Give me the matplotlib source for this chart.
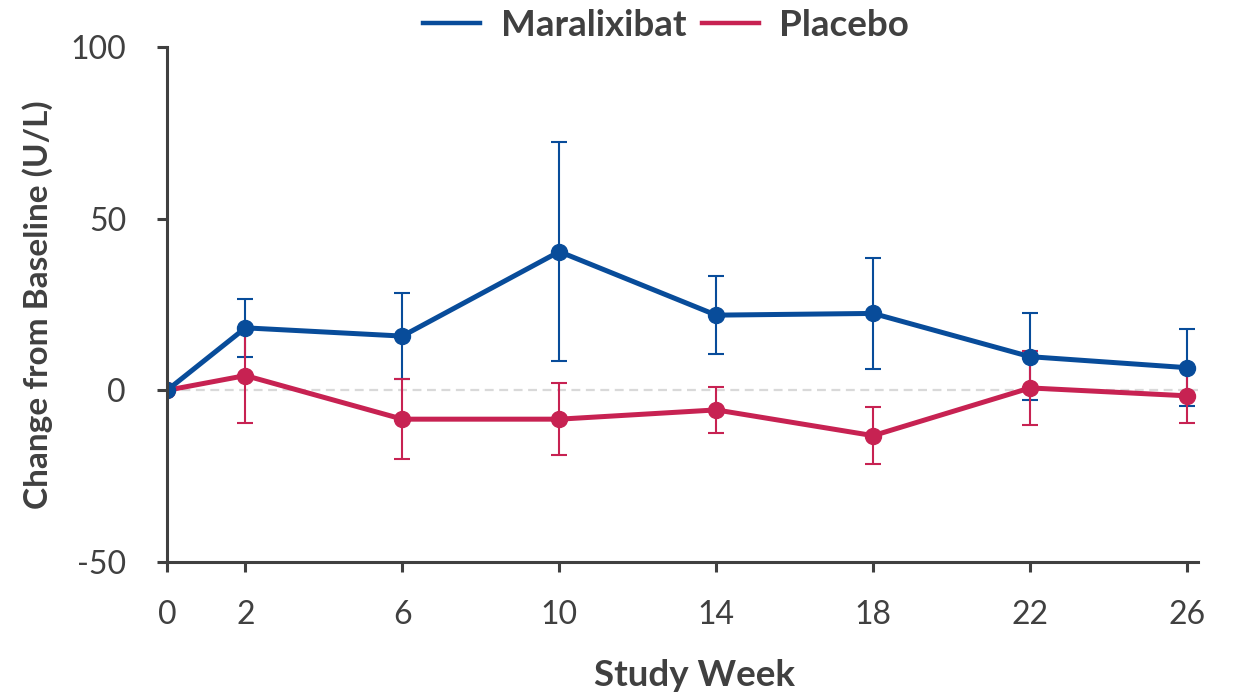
import matplotlib
matplotlib.use("Agg")
import matplotlib.pyplot as plt

# Study weeks and mean change from baseline (U/L) with error margins
weeks = [0, 2, 6, 10, 14, 18, 22, 26]

maralixibat = [0.0, 18.2, 15.8, 40.4, 21.9, 22.4, 9.8, 6.6]
maralixibat_err = [0.0, 8.4, 12.6, 31.8, 11.4, 16.1, 12.7, 11.3]

placebo = [0.0, 4.3, -8.4, -8.4, -5.7, -13.2, 0.7, -1.6]
placebo_err = [0.0, 13.7, 11.6, 10.5, 6.8, 8.4, 10.9, 8.0]

x_ticks = [0, 2, 6, 10, 14, 18, 22, 26]
y_ticks = [-50, 0, 50, 100]

BLUE = "#084C9A"
RED = "#C72252"
TEXT = "#404040"

plt.rcParams["font.family"] = ["Lato", "DejaVu Sans"]
plt.rcParams["axes.unicode_minus"] = False

fig = plt.figure(figsize=(12.43, 6.99), dpi=100)
W, H = 1243, 699
ax = fig.add_axes([167 / W, 1 - 562 / H, (1198 - 167) / W, (562 - 47) / H])

# reference line at zero
ax.axhline(0, color="#D9D9D9", lw=1.6, ls=(0, (4, 2.5)), zorder=1)

# error bars
for y, e, c in [(maralixibat, maralixibat_err, BLUE), (placebo, placebo_err, RED)]:
    ax.errorbar(weeks, y, yerr=e, fmt="none", ecolor=c, elinewidth=1.5,
                capsize=5.5, capthick=1.5, zorder=2)

# series lines with markers
ax.plot(weeks, placebo, color=RED, lw=3.6, marker="o", ms=11.5, zorder=3)
ax.plot(weeks, maralixibat, color=BLUE, lw=3.6, marker="o", ms=11.5, zorder=4)

ax.set_xlim(0, 26.28)
ax.set_ylim(-50, 100)
ax.set_xticks(x_ticks)
ax.set_yticks(y_ticks)

for side in ["top", "right"]:
    ax.spines[side].set_visible(False)
for side in ["left", "bottom"]:
    ax.spines[side].set_color(TEXT)
    ax.spines[side].set_linewidth(2.2)
ax.spines["left"].set_zorder(5)

ax.tick_params(axis="both", direction="out", length=7.5, width=2.2, color=TEXT,
               labelcolor=TEXT, labelsize=23)
ax.tick_params(axis="x", pad=20)
ax.tick_params(axis="y", pad=22)

ax.set_xlabel("Study Week", fontsize=26.5, fontweight="bold", color=TEXT)
ax.xaxis.set_label_coords((695 - 167) / (1198 - 167), -(659 - 562) / (562 - 47))
ax.set_ylabel("Change from Baseline (U/L)", fontsize=24, fontweight="bold",
              color=TEXT)
ax.yaxis.set_label_coords(-(167 - 53) / (1198 - 167), 0.5)

leg = fig.legend([plt.Line2D([], [], color=BLUE, lw=3.2),
                  plt.Line2D([], [], color=RED, lw=3.2)],
                 ["Maralixibat", "Placebo"], loc="upper center",
                 bbox_to_anchor=(666 / W, 1.034), ncol=2, frameon=False,
                 handlelength=1.55, handletextpad=0.55, columnspacing=0.42,
                 prop={"size": 26.5, "weight": "bold"})
for t in leg.get_texts():
    t.set_color(TEXT)

fig.savefig("out.png", dpi=100)
